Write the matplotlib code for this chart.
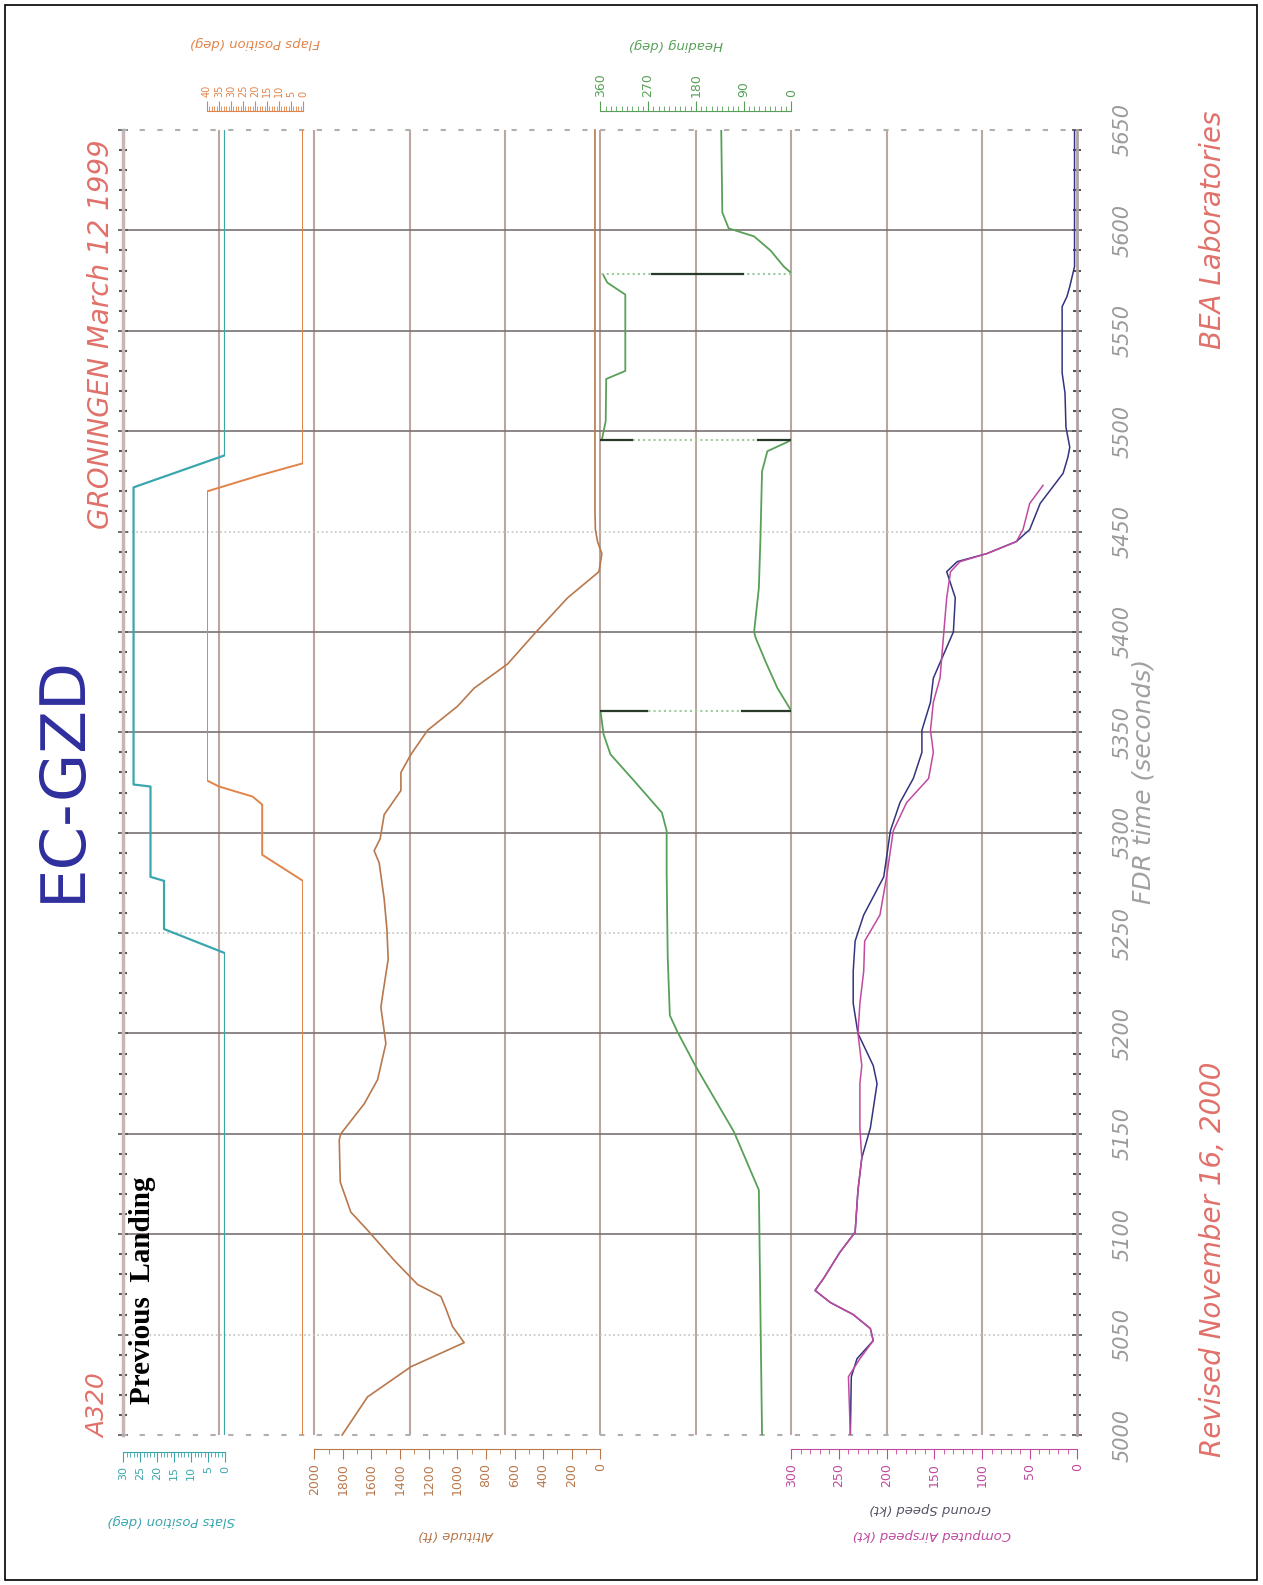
import matplotlib
matplotlib.use("Agg")
import matplotlib.pyplot as plt
from matplotlib.patches import Rectangle
from matplotlib.ticker import MultipleLocator
import numpy as np

# ---- data (time in FDR seconds) ----
slat_t = [5000, 5240, 5252, 5276, 5278, 5323, 5324, 5472, 5488, 5650]
slat_v = [0, 0, 18, 18, 22, 22, 27, 27, 0, 0]

flap_t = [5000, 5276, 5289, 5314, 5318, 5323, 5326, 5470, 5478, 5484, 5650]
flap_v = [0, 0, 17, 17, 21, 35, 40, 40, 18, 0, 0]

alt_t = [5000, 5019, 5034, 5046, 5054, 5063, 5069, 5075, 5087, 5102, 5111, 5126,
         5147, 5150, 5165, 5177, 5195, 5213, 5219, 5237, 5252, 5267, 5285, 5291,
         5297, 5309, 5321, 5330, 5339, 5351, 5363, 5372, 5384, 5399, 5417, 5430,
         5439, 5445, 5451, 5460, 5650]
alt_v = [1805, 1627, 1324, 952, 1033, 1080, 1115, 1278, 1441, 1627, 1744, 1818,
         1825, 1814, 1650, 1557, 1499, 1534, 1522, 1483, 1492, 1511, 1546, 1581,
         1539, 1511, 1394, 1394, 1324, 1208, 998, 882, 649, 462, 229, 10,
         -10, 20, 35, 38, 38]

hdg_t = [5000, 5060, 5122, 5151, 5184, 5201, 5209, 5238, 5280, 5301, 5310, 5326,
         5339, 5349, 5360, 5361, 5372, 5385, 5397, 5400, 5422, 5447, 5480, 5490,
         5495, 5496, 5505, 5526, 5530, 5568, 5574, 5578, 5579, 5582, 5590, 5597,
         5601, 5609, 5650]
hdg_v = [55, 58, 61, 108, 181, 215, 229, 233, 235, 235, 244, 297,
         341, 354, 359.5, 0.5, 26, 48, 67, 70, 61, 58, 55, 45,
         4, 357, 350, 349, 313, 313, 347, 355, 1, 14, 39, 70,
         118, 130, 132]
# dark parts of the 360/0 wrap connectors (deg)
hdg_wrap_dark = [[(272, 360), (0, 92)], [(300, 360), (0, 63)], [(91, 263)]]

cas_t = [5000, 5029, 5038, 5047, 5053, 5060, 5066, 5072, 5078, 5091, 5101, 5122,
         5138, 5153, 5175, 5184, 5200, 5215, 5231, 5246, 5259, 5278, 5301, 5315,
         5327, 5340, 5351, 5365, 5377, 5400, 5417, 5430, 5435, 5439, 5445, 5451,
         5464, 5473]
cas_v = [238, 240, 228, 214, 217, 235, 259, 275, 266, 249, 233, 230,
         226, 228, 228, 226, 230, 228, 224, 223, 207, 200, 193, 179,
         156, 151, 154, 151, 144, 140, 137, 133, 123, 95, 64, 57,
         50, 36]

gs_t = [5000, 5029, 5038, 5047, 5053, 5060, 5066, 5072, 5078, 5091, 5101, 5122,
        5138, 5153, 5175, 5184, 5200, 5215, 5231, 5246, 5259, 5278, 5301, 5315,
        5327, 5340, 5351, 5365, 5377, 5400, 5417, 5430, 5435, 5439, 5445, 5451,
        5464, 5479, 5487, 5492, 5502, 5519, 5529, 5549, 5562, 5567, 5572, 5582,
        5602, 5650]
gs_v = [238, 237, 231, 214, 217, 235, 259, 275, 266, 249, 233, 230,
        226, 217, 210, 214, 230, 235, 235, 233, 224, 203, 196, 186,
        172, 163, 163, 154, 151, 130, 128, 137, 126, 95, 64, 50,
        39, 15, 10, 8, 12, 13, 16, 16, 16, 11, 8, 3,
        3, 3]

time_ticks = list(range(5000, 5651, 50))

# ---- layout helpers (pixels of the 1263x1585 image) ----
W, H = 1263, 1585
L, R, T, B = 123.4, 1077.4, 130, 1435


def fx(px):
    return px / W


def fy(py):
    return 1 - py / H


def band(x0, x1):
    return [fx(x0), fy(B), (x1 - x0) / W, (B - T) / H]


RED = "#e0706a"
TEAL = "#3aa6ae"
ORANGE = "#e0844a"
BROWN = "#b8784c"
GREEN = "#58a058"
MAGENTA = "#c04aa0"
NAVY = "#34347e"
GRAY = "#8a8a8a"

fig = plt.figure(figsize=(W / 100, H / 100), dpi=100)
fig.patch.set_facecolor("white")

ax = fig.add_axes(band(L, R))
ax.set_xlim(0, 10)
ax.set_ylim(5000, 5650)
for k in range(1, 10):
    ax.axvline(k, color="#bca6a0", lw=1.5, zorder=0)
for t in [5100, 5150, 5200, 5300, 5350, 5400, 5500, 5550, 5600]:
    ax.axhline(t, color="#7a7272", lw=1.2, zorder=0)
for t in [5050, 5250, 5450]:
    ax.axhline(t, color="#c4c4c4", lw=1.2, ls=":", zorder=0)

ax.spines["left"].set_color("#c8b6b6")
ax.spines["left"].set_linewidth(2.5)
ax.spines["right"].set_color("#b0a2a2")
ax.spines["right"].set_linewidth(2)
for s in ["top", "bottom"]:
    ax.spines[s].set_color("#b0b0b0")
    ax.spines[s].set_linestyle((0, (1.5, 7)))
    ax.spines[s].set_linewidth(1.5)
ax.set_xticks([])
ax.yaxis.set_major_locator(MultipleLocator(50))
ax.yaxis.set_minor_locator(MultipleLocator(10))
ax.set_yticks(time_ticks)
ax.set_yticklabels([str(t) for t in time_ticks])
ax.tick_params(axis="y", which="both", left=True, right=True, direction="inout",
               colors="#555555", labelleft=False, labelright=True)
ax.tick_params(axis="y", which="major", length=7, width=1.2, pad=22,
               labelrotation=90, labelsize=15, labelcolor="#9a9a9a")
ax.tick_params(axis="y", which="minor", length=6, width=1.5)
for lab in ax.get_yticklabels():
    lab.set_fontstyle("italic")
    lab.set_va("center")


def param_axes(x0, x1, vmax, side, major, minor, color, size, offset):
    a = fig.add_axes(band(x0, x1), sharey=ax)
    a.set_xlim(vmax, 0)
    a.patch.set_alpha(0)
    for s in a.spines.values():
        s.set_visible(False)
    a.tick_params(axis="y", which="both", left=False, right=False,
                  labelleft=False, labelright=False)
    a.spines[side].set_visible(True)
    a.spines[side].set_position(("outward", offset))
    a.spines[side].set_color(color)
    a.xaxis.set_ticks_position(side)
    a.xaxis.set_major_locator(MultipleLocator(major))
    a.xaxis.set_minor_locator(MultipleLocator(minor))
    a.tick_params(axis="x", which="major", length=7, color=color,
                  labelcolor=color, labelsize=size, labelrotation=90, pad=3)
    a.tick_params(axis="x", which="minor", length=3.5, color=color)
    return a


a_slat = param_axes(123.4, 225, 30, "bottom", 5, 1, TEAL, 8, 12)
a_slat.plot(slat_v, slat_t, color=TEAL, lw=1.6)

a_flap = param_axes(207, 303, 40, "top", 5, 1, ORANGE, 7, 14)
a_flap.plot(flap_v, flap_t, color=ORANGE, lw=1.4)

a_alt = param_axes(314.2, 600.4, 2000, "bottom", 200, 100, BROWN, 9, 10)
a_alt.set_xlim(2000, 0)
a_alt.plot(alt_v, alt_t, color=BROWN, lw=1.2, clip_on=False)

a_hdg = param_axes(600.4, 791.2, 360, "top", 90, 10, GREEN, 9, 14)
h = np.array(hdg_v)
t = np.array(hdg_t)
breaks = np.where(np.abs(np.diff(h)) > 180)[0] + 1
for seg_t, seg_h in zip(np.split(t, breaks), np.split(h, breaks)):
    a_hdg.plot(seg_h, seg_t, color=GREEN, lw=1.3)
for i, dark in zip(breaks, hdg_wrap_dark):
    tw = (t[i - 1] + t[i]) / 2
    a_hdg.plot([0, 360], [tw, tw], color="#9ccc9c", lw=1.5, ls=(0, (1, 1.5)))
    for h0, h1 in dark:
        a_hdg.plot([h0, h1], [tw, tw], color="#2a3a2a", lw=1.6)

a_spd = param_axes(791.2, 1077.4, 300, "bottom", 50, 10, MAGENTA, 9, 10)
a_spd.plot(gs_v, gs_t, color=NAVY, lw=1.1)
a_spd.plot(cas_v, cas_t, color=MAGENTA, lw=1.1)

# ---- axis titles (upside down in this rotated print) ----
def label(x, y, s, color, size=9.5):
    fig.text(fx(x), fy(y), s, rotation=180, color=color, fontsize=size,
             fontstyle="italic", ha="center", va="center")


label(171, 1520, "Slats Position (deg)", TEAL)
label(457, 1534, "Altitude (ft)", BROWN)
label(930, 1508, "Ground Speed (kt)", "#555566")
label(932, 1535, "Computed Airspeed (kt)", MAGENTA)
label(255, 43, "Flaps Position (deg)", ORANGE)
label(676, 45, "Heading (deg)", GREEN)

# ---- annotations ----
fig.text(fx(63), fy(778), "EC-GZD", rotation=90, fontsize=45, color="#2e2e9e",
         ha="center", va="center")
fig.text(fx(98), fy(1406), "A320", rotation=90, fontsize=18, color=RED,
         fontstyle="italic", ha="center", va="center")
fig.text(fx(101), fy(334), "GRONINGEN March 12 1999", rotation=90, fontsize=20,
         color=RED, fontstyle="italic", ha="center", va="center")
fig.text(fx(143), fy(1290), "Previous  Landing", rotation=90, fontsize=21,
         family="Liberation Serif", fontweight="bold", color="black",
         ha="center", va="center")
fig.text(fx(1143), fy(781), "FDR time (seconds)", rotation=90, fontsize=18,
         color="#a0a0a0", fontstyle="italic", ha="center", va="center")
fig.text(fx(1213), fy(1259), "Revised November 16, 2000", rotation=90,
         fontsize=20, color=RED, fontstyle="italic", ha="center", va="center")
fig.text(fx(1213), fy(230), "BEA Laboratories", rotation=90, fontsize=20,
         color=RED, fontstyle="italic", ha="center", va="center")

fig.patches.append(Rectangle((fx(5), fy(1580)), fx(1257) - fx(5), fy(5) - fy(1580),
                             transform=fig.transFigure, fill=False,
                             edgecolor="black", lw=1.2))

fig.savefig("out.png", dpi=100)
